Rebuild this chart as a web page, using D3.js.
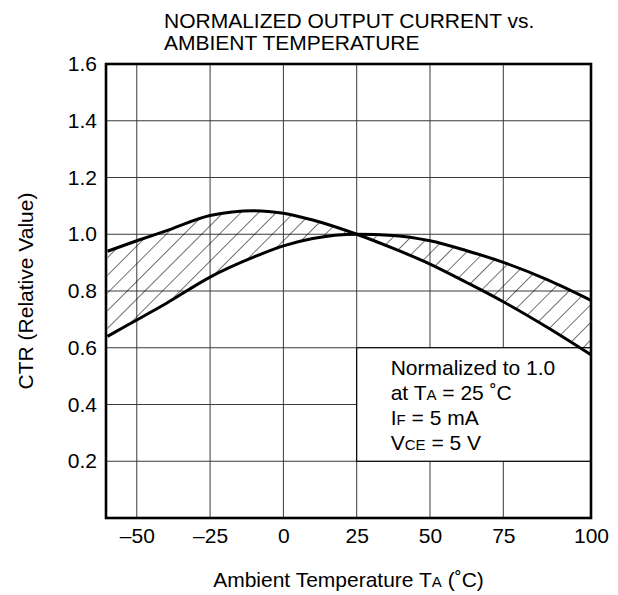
<!DOCTYPE html>
<html>
<head>
<meta charset="utf-8">
<script src="https://cdn.jsdelivr.net/npm/d3@7"></script>
<style>
  body { margin: 0; background: #fff; }
  text { font-family: "Liberation Sans", Arial, sans-serif; fill: #000; }
</style>
</head>
<body>
<script>
// data
var temps  = [-60, -50, -40, -25, -10, 0, 10, 25, 37.5, 50, 62.5, 75, 87.5, 100];
var curveA = [0.94, 0.977, 1.012, 1.066, 1.083, 1.074, 1.05, 1.0, 0.95, 0.895, 0.83, 0.762, 0.672, 0.575];
var curveB = [0.64, 0.698, 0.756, 0.849, 0.92, 0.959, 0.985, 1.0, 0.996, 0.977, 0.942, 0.901, 0.84, 0.767];

var xGrid = [-50, -25, 0, 25, 50, 75];
var xTickValues = [-50, -25, 0, 25, 50, 75, 100];
var xTickLabels = ["\u201350", "\u201325", "0", "25", "50", "75", "100"];
var yGrid = [0.2, 0.4, 0.6, 0.8, 1.0, 1.2, 1.4];
var yTickValues = [0.2, 0.4, 0.6, 0.8, 1.0, 1.2, 1.4, 1.6];
var yTickLabels = ["0.2", "0.4", "0.6", "0.8", "1.0", "1.2", "1.4", "1.6"];

var titleLines = ["NORMALIZED OUTPUT CURRENT vs.", "AMBIENT TEMPERATURE"];
var boxRange = {tFrom: 25, vFrom: 0.2, vTo: 0.6};

var fs = "21px", subFs = "15px";

// set the dimensions and margins of the graph
var margin = {top: 64, right: 27, bottom: 77, left: 106},
    width = 618 - margin.left - margin.right,
    height = 595 - margin.top - margin.bottom;

// the sheet puts "100" on the right frame, so the last segment is stretched
var x = d3.scaleLinear().domain([-60.5, 75, 100]).range([0, 397.3, width]);
var y = d3.scaleLinear().domain([0, 1.6]).range([height, 0]);

var rows = temps.map(function(t, i) { return {t: t, a: curveA[i], b: curveB[i]}; });

var svg = d3.select("body").append("svg")
    .attr("width", 618)
    .attr("height", 595);

var defs = svg.append("defs");
var pat = defs.append("pattern")
    .attr("id", "hatch")
    .attr("patternUnits", "userSpaceOnUse")
    .attr("width", 12.5)
    .attr("height", 12.5)
    .attr("patternTransform", "rotate(45)");
pat.append("line")
    .attr("x1", 0).attr("y1", 0).attr("x2", 0).attr("y2", 12.5)
    .attr("stroke", "#000").attr("stroke-width", 1.1);

defs.append("clipPath").attr("id", "clip")
  .append("rect").attr("width", width).attr("height", height);

// title
svg.append("g").selectAll("text")
    .data(titleLines)
  .enter().append("text")
    .attr("x", 164)
    .attr("y", function(d, i) { return 28 + i * 22; })
    .style("font-size", fs)
    .text(function(d) { return d; });

var g = svg.append("g")
    .attr("transform", "translate(" + margin.left + "," + margin.top + ")");

// gridlines
g.append("g").selectAll("line")
    .data(xGrid)
  .enter().append("line")
    .attr("x1", function(d) { return x(d); })
    .attr("x2", function(d) { return x(d); })
    .attr("y1", 0).attr("y2", height)
    .attr("stroke", "#3a3a3a").attr("stroke-width", 1);

g.append("g").selectAll("line")
    .data(yGrid)
  .enter().append("line")
    .attr("y1", function(d) { return y(d); })
    .attr("y2", function(d) { return y(d); })
    .attr("x1", 0).attr("x2", width)
    .attr("stroke", "#3a3a3a").attr("stroke-width", 1);

// note box
g.append("rect")
    .attr("x", x(boxRange.tFrom))
    .attr("y", y(boxRange.vTo))
    .attr("width", width - x(boxRange.tFrom))
    .attr("height", y(boxRange.vFrom) - y(boxRange.vTo))
    .attr("fill", "#fff")
    .attr("stroke", "#000").attr("stroke-width", 1.2);

var noteX = x(boxRange.tFrom) + 34;
var note = g.append("text")
    .attr("x", noteX)
    .attr("y", 311)
    .style("font-size", fs);
note.append("tspan").text("Normalized to 1.0");
var l2 = note.append("tspan").attr("x", noteX).attr("dy", 25);
l2.append("tspan").text("at T");
l2.append("tspan").style("font-size", subFs).text("A");
l2.append("tspan").text(" = 25 \u02DAC");
var l3 = note.append("tspan").attr("x", noteX).attr("dy", 25);
l3.append("tspan").text("I");
l3.append("tspan").style("font-size", subFs).text("F");
l3.append("tspan").text(" = 5 mA");
var l4 = note.append("tspan").attr("x", noteX).attr("dy", 25);
l4.append("tspan").text("V");
l4.append("tspan").style("font-size", subFs).text("CE");
l4.append("tspan").text(" = 5 V");

// hatched band between the two curves
var band = d3.area()
    .curve(d3.curveMonotoneX)
    .x(function(d) { return x(d.t); })
    .y0(function(d) { return y(d.b); })
    .y1(function(d) { return y(d.a); });

var plot = g.append("g").attr("clip-path", "url(#clip)");
plot.append("path")
    .datum(rows)
    .attr("fill", "url(#hatch)")
    .attr("d", band);

["a", "b"].forEach(function(key) {
  var line = d3.line()
      .curve(d3.curveMonotoneX)
      .x(function(d) { return x(d.t); })
      .y(function(d) { return y(d[key]); });
  plot.append("path")
      .datum(rows)
      .attr("fill", "none")
      .attr("stroke", "#000")
      .attr("stroke-width", 3)
      .attr("d", line);
});

// frame
g.append("rect")
    .attr("width", width).attr("height", height)
    .attr("fill", "none")
    .attr("stroke", "#000").attr("stroke-width", 2.6);

// axes (labels only)
var xAxis = g.append("g")
    .attr("transform", "translate(0," + height + ")")
    .call(d3.axisBottom(x)
        .tickValues(xTickValues)
        .tickSize(0)
        .tickPadding(10)
        .tickFormat(function(d, i) { return xTickLabels[i]; }));
xAxis.select(".domain").remove();
xAxis.selectAll("text").style("font-size", fs).attr("font-family", null);

var yAxis = g.append("g")
    .call(d3.axisLeft(y)
        .tickValues(yTickValues)
        .tickSize(0)
        .tickPadding(9)
        .tickFormat(function(d, i) { return yTickLabels[i]; }));
yAxis.select(".domain").remove();
yAxis.selectAll("text").style("font-size", fs).attr("font-family", null);

// axis titles
var xt = svg.append("text")
    .attr("x", margin.left + width / 2)
    .attr("y", 587)
    .style("text-anchor", "middle")
    .style("font-size", fs);
xt.append("tspan").text("Ambient Temperature T");
xt.append("tspan").style("font-size", subFs).text("A");
xt.append("tspan").text(" (\u02DAC)");

svg.append("text")
    .attr("transform", "translate(33," + (margin.top + height / 2) + ") rotate(-90)")
    .style("text-anchor", "middle")
    .style("font-size", fs)
    .text("CTR (Relative Value)");
</script>
</body>
</html>
